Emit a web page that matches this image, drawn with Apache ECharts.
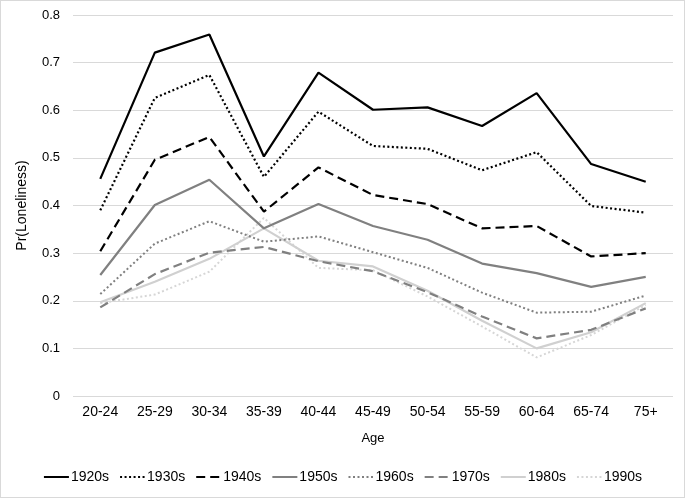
<!DOCTYPE html>
<html>
<head>
<meta charset="utf-8">
<script src="https://cdn.jsdelivr.net/npm/echarts@6/dist/echarts.min.js"></script>
<style>
html,body{margin:0;padding:0;background:#fff;}
#c{width:685px;height:498px;box-sizing:border-box;border:1px solid #d9d9d9;}
</style>
</head>
<body>
<div id="c"></div>
<script>
const categories = ['20-24','25-29','30-34','35-39','40-44','45-49','50-54','55-59','60-64','65-74','75+'];
const s1920 = [0.456,0.721,0.759,0.503,0.679,0.601,0.606,0.567,0.636,0.487,0.450];
const s1930 = [0.390,0.626,0.674,0.460,0.597,0.525,0.519,0.474,0.512,0.399,0.385];
const s1940 = [0.304,0.496,0.544,0.387,0.480,0.422,0.403,0.352,0.357,0.293,0.300];
const s1950 = [0.254,0.401,0.454,0.352,0.403,0.357,0.328,0.278,0.258,0.229,0.250];
const s1960 = [0.214,0.320,0.367,0.324,0.335,0.302,0.269,0.217,0.175,0.177,0.211];
const s1970 = [0.186,0.256,0.301,0.313,0.283,0.262,0.218,0.167,0.121,0.139,0.184];
const s1980 = [0.197,0.240,0.288,0.352,0.284,0.272,0.221,0.158,0.100,0.134,0.195];
const s1990 = [0.195,0.213,0.261,0.374,0.269,0.264,0.209,0.146,0.081,0.128,0.191];
const seriesNames = ['1920s','1930s','1940s','1950s','1960s','1970s','1980s','1990s'];

const styles = [
  {color:'#000000', type:'solid', width:2.2},
  {color:'#000000', type:[2,2.5], width:2.2},
  {color:'#000000', type:[9,5], width:2.2},
  {color:'#808080', type:'solid', width:2.2},
  {color:'#808080', type:[2,2.5], width:2},
  {color:'#808080', type:[9,5], width:2.2},
  {color:'#d0d0d0', type:'solid', width:2.2},
  {color:'#d6d6d6', type:[2,2.5], width:2}
];
const data = [s1920,s1930,s1940,s1950,s1960,s1970,s1980,s1990];

const chart = echarts.init(document.getElementById('c'), null, {renderer:'canvas'});
const font = 'Liberation Sans, Arial, sans-serif';
chart.setOption({
  animation:false,
  textStyle:{fontFamily:font},
  grid:{left:72, right:11, top:14, bottom:101, containLabel:false},
  legend:{
    bottom:8, left:'center', itemWidth:25, itemHeight:10, itemGap:10,
    itemStyle:{opacity:0},
    textStyle:{fontSize:14, color:'#000', fontFamily:font, padding:[0,0,0,-3]},
    data:seriesNames
  },
  xAxis:{
    type:'category', data:categories, boundaryGap:true,
    axisLine:{show:false}, axisTick:{show:false},
    axisLabel:{fontSize:14, color:'#000', margin:9, fontFamily:font},
    name:'Age', nameLocation:'middle', nameGap:36,
    nameTextStyle:{fontSize:13, color:'#000', fontFamily:font}
  },
  yAxis:{
    type:'value', min:0, max:0.8, interval:0.1,
    axisLine:{show:false}, axisTick:{show:false},
    splitLine:{lineStyle:{color:'#d9d9d9', width:1}},
    axisLabel:{fontSize:13, color:'#000', margin:13, fontFamily:font,
      formatter:v=>String(Math.round(v*10)/10)},
    name:'Pr(Loneliness)', nameLocation:'middle', nameGap:44, nameRotate:90,
    nameTextStyle:{fontSize:14, color:'#000', fontFamily:font}
  },
  series: seriesNames.map((n,i)=>({
    name:n, type:'line', data:data[i], symbol:'none',
    lineStyle:{color:styles[i].color, type:styles[i].type, width:styles[i].width, cap:'butt'},
    itemStyle:{color:styles[i].color},
    z: 10 - i
  }))
});
</script>
</body>
</html>
